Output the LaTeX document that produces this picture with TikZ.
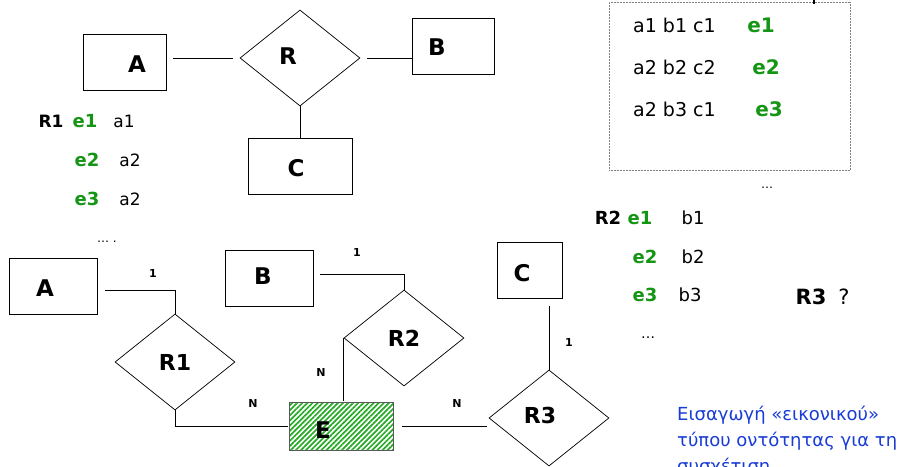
\documentclass[tikz,border=0pt]{standalone}
\usepackage{fontspec}
\setmainfont{DejaVu Sans}
\usetikzlibrary{shapes.geometric,patterns.meta}
\definecolor{eg}{RGB}{20,150,20}
\definecolor{gb}{RGB}{25,60,215}
\definecolor{hatch}{RGB}{40,170,40}
\begin{document}
\begin{tikzpicture}[x=1pt,y=-1pt,
  ent/.style={draw, line width=0.7pt, inner sep=0pt},
  rel/.style={draw, diamond, line width=0.7pt, inner sep=0pt, minimum width=120pt, minimum height=96pt, font=\bfseries\fontsize{22}{26}\selectfont},
  big/.style={inner sep=0pt, font=\bfseries\fontsize{23}{26}\selectfont},
  card/.style={inner sep=0pt, font=\bfseries\fontsize{11}{13}\selectfont},
  row/.style={inner sep=0pt, font=\fontsize{19}{22}\selectfont},
  rowg/.style={inner sep=0pt, text=eg, font=\bfseries\fontsize{20}{22}\selectfont},
  lrow/.style={inner sep=0pt, font=\fontsize{17}{20}\selectfont},
  lrowb/.style={inner sep=0pt, font=\bfseries\fontsize{17}{20}\selectfont},
  lrowg/.style={inner sep=0pt, text=eg, font=\bfseries\fontsize{18}{20}\selectfont},
  dots/.style={inner sep=0pt, font=\fontsize{12}{14}\selectfont},
  greek/.style={inner sep=0pt, anchor=west, text=gb, font=\fontsize{18}{22}\selectfont},
  conn/.style={line width=0.7pt}
]
\useasboundingbox (0,0) rectangle (904,466);

% ---------- top diagram ----------
\node[ent, minimum width=83pt, minimum height=56pt] (A) at (124.5,62) {};
\node[big] (Al) at (137,64) {A};
\node[rel] (R) at (300,58) {};
\node[big] (Rl) at (288,56) {R};
\node[ent, minimum width=82pt, minimum height=56pt] (B) at (453,46) {};
\node[big] (Bl) at (437,47) {B};
\node[ent, minimum width=104pt, minimum height=56pt] (C) at (300,166) {};
\node[big] (Cl) at (296,168) {C};

\draw[conn, shorten <=7pt, shorten >=7pt] (A.east |- R.west) -- (R.west);
\draw[conn, shorten <=7pt] (R.east) -- (R.east -| B.west);
\draw[conn] (R.south) -- (C.north);

% left rows
\node[lrowb] (r1) at (51,121) {R1};
\node[lrowg] (r1e1) at (85,121) {e1};
\node[lrow] (r1a1) at (124,121) {a1};
\node[lrowg] (r1e2) at (87,160) {e2};
\node[lrow] (r1a2) at (130,160) {a2};
\node[lrowg] (r1e3) at (87,199) {e3};
\node[lrow] (r1a3) at (130,199) {a2};
\node[dots] (ld) at (107,242) {\dots\ .};

% top right box
\node[draw=gray, densely dotted, line width=0.5pt, minimum width=241pt, minimum height=168pt, inner sep=0pt] (tb) at (729.5,86) {};
\draw[line width=1.6pt] (814,0) -- (814,4);
\node[row, anchor=west] (t1) at (633,25) {a1 b1 c1};
\node[rowg] (t1e) at (761,25) {e1};
\node[row, anchor=west] (t2) at (633,67) {a2 b2 c2};
\node[rowg] (t2e) at (766,67) {e2};
\node[row, anchor=west] (t3) at (633,109) {a2 b3 c1};
\node[rowg] (t3e) at (769,109) {e3};
\node[dots] (td) at (767,188) {\dots};

% R2 rows
\node[lrowb, font=\bfseries\fontsize{18}{22}\selectfont] (r2) at (608,218) {R2};
\node[lrowg, font=\bfseries\fontsize{18}{22}\selectfont] (r2e1) at (640,218) {e1};
\node[lrow, font=\fontsize{18}{22}\selectfont] (r2b1) at (693,218) {b1};
\node[lrowg, font=\bfseries\fontsize{18}{22}\selectfont] (r2e2) at (645,257) {e2};
\node[lrow, font=\fontsize{18}{22}\selectfont] (r2b2) at (693,257) {b2};
\node[lrowg, font=\bfseries\fontsize{18}{22}\selectfont] (r2e3) at (645,295) {e3};
\node[lrow, font=\fontsize{18}{22}\selectfont] (r2b3) at (690,295) {b3};
\node[dots, font=\fontsize{14}{16}\selectfont] (r2d) at (648,338) {\dots};
\node[big, font=\bfseries\fontsize{21}{24}\selectfont] (r3q) at (811,297) {R3};
\node[big, font=\fontsize{21}{24}\selectfont] (q) at (844,297) {?};

% ---------- bottom diagram ----------
\node[ent, minimum width=88pt, minimum height=56pt] (A2) at (53,286) {};
\node[big] (A2l) at (45,288) {A};
\node[ent, minimum width=88pt, minimum height=56pt] (B2) at (269,278) {};
\node[big] (B2l) at (263,276) {B};
\node[ent, minimum width=65pt, minimum height=56pt] (C2) at (529.5,270) {};
\node[big] (C2l) at (522,273) {C};

\node[rel] (R1) at (175,362) {R1};
\node[rel] (R2) at (404,338) {R2};
\node[rel] (R3) at (549,418) {};
\node[big, font=\bfseries\fontsize{22}{26}\selectfont] (R3l) at (540,415) {R3};

\node[ent, draw=gray!70!black, minimum width=104pt, minimum height=48pt,
      preaction={fill=white},
      pattern={Lines[angle=45,distance=3.6pt,line width=1.7pt]}, pattern color=hatch] (E) at (341,426) {};
\node[big] (El) at (323,430) {E};

\draw[conn, shorten <=8pt] ([yshift=-4pt]A2.east) -| (R1.north);
\draw[conn] (R1.south) |- (E.west);
\draw[conn, shorten <=7pt] ([yshift=4pt]B2.east) -| (R2.north);
\draw[conn] (R2.west) -- (R2.west |- E.north);
\draw[conn, shorten <=8pt, shorten >=2pt] (E.east) -- (E.east -| R3.west);
\draw[conn, shorten <=8pt] (C2.south -| R3.north) -- (R3.north);

\node[card] (k1) at (153,273) {1};
\node[card] (k2) at (357,252) {1};
\node[card] (k3) at (569,342) {1};
\node[card] (n1) at (253,403) {N};
\node[card] (n2) at (321,372) {N};
\node[card] (n3) at (457,403) {N};

% Greek note
\node[greek] (g1) at (677,415) {Εισαγωγή «εικονικού»};
\node[greek] (g2) at (677,441) {τύπου οντότητας για τη};
\node[greek] (g3) at (677,467) {συσχέτιση};
\end{tikzpicture}
\end{document}
